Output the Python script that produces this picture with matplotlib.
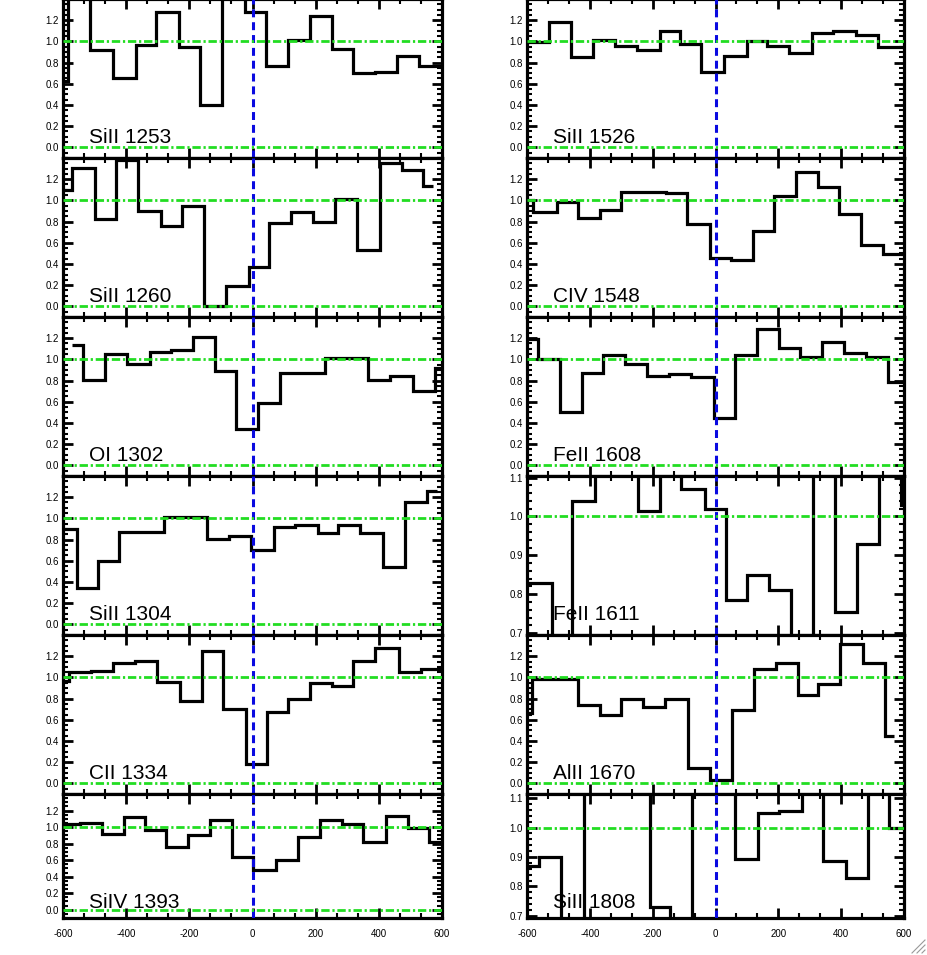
import matplotlib.pyplot as plt
from matplotlib.lines import Line2D
from matplotlib.ticker import MultipleLocator, FormatStrFormatter

plt.rcParams['font.family'] = ['Liberation Sans', 'DejaVu Sans']
plt.rcParams['axes.unicode_minus'] = False

# velocity bin edges (km/s) and normalised flux for each transition
siii1253_edges = [-600, -584, -513, -441, -369, -304, -232, -167, -95, -24, 44, 113, 182, 252, 319, 387, 456, 527, 601]
siii1253_flux = [0.63, 1.45, 0.92, 0.65, 0.97, 1.28, 0.95, 0.40, 1.45, 1.28, 0.77, 1.01, 1.24, 0.93, 0.70, 0.71, 0.86, 0.77]

siii1260_edges = [-600, -570, -499, -431, -362, -290, -222, -153, -84, -11, 53, 123, 192, 261, 332, 403, 472, 540, 572]
siii1260_flux = [1.10, 1.31, 0.82, 1.38, 0.90, 0.76, 0.95, 0.00, 0.19, 0.37, 0.79, 0.89, 0.80, 1.01, 0.53, 1.35, 1.29, 1.14]

oi1302_edges = [-573, -538, -468, -396, -325, -259, -188, -119, -51, 18, 87, 155, 229, 298, 366, 435, 509, 577, 601]
oi1302_flux = [1.135, 0.81, 1.05, 0.96, 1.07, 1.085, 1.21, 0.89, 0.34, 0.59, 0.87, 0.87, 1.01, 1.01, 0.81, 0.84, 0.70, 0.92]

siii1304_edges = [-600, -557, -489, -422, -351, -281, -211, -144, -74, -6, 68, 134, 206, 271, 340, 414, 482, 551, 583]
siii1304_flux = [0.90, 0.34, 0.60, 0.87, 0.87, 1.01, 1.01, 0.81, 0.83, 0.70, 0.92, 0.94, 0.865, 0.94, 0.865, 0.54, 1.15, 1.26]

cii1334_edges = [-600, -582, -510, -441, -373, -301, -230, -161, -93, -21, 47, 113, 182, 252, 319, 389, 463, 535, 601]
cii1334_flux = [0.97, 1.05, 1.06, 1.135, 1.155, 0.955, 0.78, 1.25, 0.70, 0.18, 0.67, 0.80, 0.945, 0.915, 1.155, 1.275, 1.055, 1.08]

siiv1393_edges = [-600, -547, -478, -407, -339, -274, -204, -135, -66, 2, 74, 145, 213, 284, 350, 422, 491, 559, 601]
siiv1393_flux = [1.04, 1.05, 0.92, 1.12, 0.97, 0.76, 0.90, 1.08, 0.635, 0.48, 0.60, 0.875, 1.08, 1.035, 0.815, 1.135, 0.99, 0.82]

siii1526_edges = [-600, -530, -459, -390, -321, -249, -178, -112, -46, 28, 99, 163, 235, 307, 373, 447, 516, 600]
siii1526_flux = [0.99, 1.18, 0.85, 1.015, 0.96, 0.92, 1.10, 0.975, 0.715, 0.86, 1.005, 0.955, 0.895, 1.075, 1.095, 1.065, 0.945]

civ1548_edges = [-600, -581, -506, -438, -369, -300, -231, -159, -90, -19, 50, 119, 187, 256, 325, 394, 463, 532, 600]
civ1548_flux = [1.005, 0.89, 0.985, 0.83, 0.905, 1.08, 1.075, 1.07, 0.775, 0.455, 0.44, 0.71, 1.04, 1.265, 1.125, 0.87, 0.575, 0.495]

feii1608_edges = [-600, -565, -496, -424, -358, -287, -218, -148, -77, -6, 63, 132, 201, 269, 339, 408, 479, 548, 600]
feii1608_flux = [1.19, 1.00, 0.50, 0.875, 1.04, 0.96, 0.845, 0.86, 0.835, 0.445, 1.04, 1.285, 1.105, 1.02, 1.165, 1.065, 1.02, 0.79]

feii1611_edges = [-600, -522, -456, -385, -316, -247, -178, -109, -35, 34, 99, 171, 240, 309, 380, 449, 519, 592, 600]
feii1611_flux = [0.83, 0.60, 1.04, 1.15, 1.15, 1.015, 1.15, 1.07, 1.02, 0.785, 0.85, 0.81, 0.60, 1.15, 0.755, 0.93, 1.15, 1.03]

alii1670_edges = [-600, -583, -506, -438, -369, -300, -231, -160, -88, -17, 53, 122, 193, 264, 327, 397, 470, 539, 569]
alii1670_flux = [0.665, 0.985, 0.985, 0.735, 0.65, 0.795, 0.725, 0.795, 0.145, 0.035, 0.695, 1.08, 1.135, 0.83, 0.935, 1.315, 1.14, 0.45]

siii1808_edges = [-600, -563, -491, -420, -351, -281, -210, -144, -75, -6, 63, 134, 203, 274, 341, 415, 484, 553, 600]
siii1808_flux = [0.87, 0.90, 0.60, 1.20, 1.20, 1.20, 0.73, 0.60, 1.20, 1.20, 0.895, 1.05, 1.055, 1.20, 0.885, 0.83, 1.20, 1.00]

left_labels = ['SiII 1253', 'SiII 1260', 'OI 1302', 'SiII 1304', 'CII 1334', 'SiIV 1393']
right_labels = ['SiII 1526', 'CIV 1548', 'FeII 1608', 'FeII 1611', 'AlII 1670', 'SiII 1808']
left_data = [(siii1253_edges, siii1253_flux), (siii1260_edges, siii1260_flux),
             (oi1302_edges, oi1302_flux), (siii1304_edges, siii1304_flux),
             (cii1334_edges, cii1334_flux), (siiv1393_edges, siiv1393_flux)]
right_data = [(siii1526_edges, siii1526_flux), (civ1548_edges, civ1548_flux),
              (feii1608_edges, feii1608_flux), (feii1611_edges, feii1611_flux),
              (alii1670_edges, alii1670_flux), (siii1808_edges, siii1808_flux)]
xticks = [-600, -400, -200, 0, 200, 400, 600]

W, H = 927, 955
fig = plt.figure(figsize=(W / 100, H / 100), dpi=100)

row_top = [-1, 158, 317, 476, 635, 794]
row_bot = [158, 317, 476, 635, 794, 918]
cols = [(63, 442), (527, 904)]

GREEN = '#22dd22'
BLUE = '#0a0ae0'


def make_panel(col, row, label, edges, flux, narrow=False):
    x0, x1 = cols[col]
    y0, y1 = row_top[row], row_bot[row]
    ax = fig.add_axes([x0 / W, 1 - y1 / H, (x1 - x0) / W, (y1 - y0) / H])
    ax.stairs(flux, edges, baseline=None, color='black', lw=2.3, zorder=2)
    ax.axvline(0, color=BLUE, lw=2.2, ls=(0, (2.6, 1.6)), zorder=3)
    ax.axhline(1.0, color=GREEN, lw=2.0, ls=(0, (3.0, 1.0, 0.8, 1.0)), zorder=3)
    ax.set_xlim(-600, 600)
    if narrow:
        if row == 5:
            ax.set_ylim(0.693, 1.114)
        else:
            ax.set_ylim(0.695, 1.104)
        ax.yaxis.set_major_locator(MultipleLocator(0.1))
        ax.yaxis.set_minor_locator(MultipleLocator(0.02))
    else:
        ax.axhline(0.0, color=GREEN, lw=2.0, ls=(0, (3.0, 1.0, 0.8, 1.0)), zorder=3)
        ax.set_ylim(-0.1, 1.4)
        ax.set_yticks([0.0, 0.2, 0.4, 0.6, 0.8, 1.0, 1.2])
        ax.yaxis.set_minor_locator(MultipleLocator(0.05))
    ax.yaxis.set_major_formatter(FormatStrFormatter('%.1f'))
    ax.set_xticks(xticks)
    ax.xaxis.set_minor_locator(MultipleLocator(200 / 3))
    ax.tick_params(which='both', direction='in', top=True, right=True)
    ax.tick_params(which='major', length=7, width=2, labelsize=7, pad=3)
    ax.tick_params(which='minor', length=3.5, width=1.5)
    ax.tick_params(axis='x', pad=8)
    if row < 5:
        ax.tick_params(axis='x', labelbottom=False)
    for sp in ax.spines.values():
        sp.set_linewidth(2.3)
    hpx = y1 - y0
    base = 15 if row < 5 else 10
    ax.text(26 / (x1 - x0), base / hpx, label, transform=ax.transAxes,
            fontsize=15, va='baseline', ha='left', zorder=4)
    return ax


for i in range(6):
    make_panel(0, i, left_labels[i], *left_data[i])
    make_panel(1, i, right_labels[i], *right_data[i], narrow=(i in (3, 5)))

# small window resize grip in the lower right corner
for k in (0, 5, 10):
    fig.add_artist(Line2D([(912 + k) / W, 925 / W], [1 - 953 / H, 1 - (940 + k) / H],
                          color='#999999', lw=0.8))

fig.savefig('out.png', dpi=100)
